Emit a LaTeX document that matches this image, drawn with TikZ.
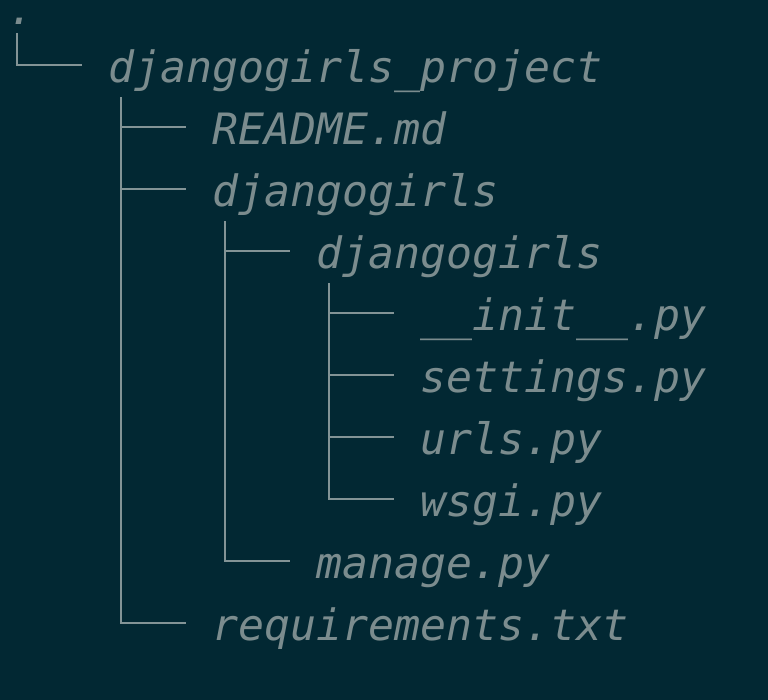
\documentclass[tikz,border=0pt]{standalone}
\usepackage{fontspec}
\newfontfamily\treefont{DejaVu Sans Mono Oblique}
\usepackage{tikz}
\usetikzlibrary{calc}
\definecolor{bgteal}{HTML}{022833}
\definecolor{treegray}{HTML}{839496}
\definecolor{textgray}{HTML}{7b8c8e}

\tikzset{
  entry/.style={anchor=base west, inner sep=0pt, text=textgray,
    font=\treefont\fontsize{32.4pt}{36pt}\selectfont},
  branch/.style={draw=treegray, line width=1.5pt}
}

\begin{document}
\begin{tikzpicture}[x=0.75pt,y=-0.75pt]
         \fill[bgteal] (0,0) rectangle (768,700);
         \useasboundingbox (0,0) rectangle (768,700);

         % Define nodes
         \node[entry] (root) at (8,24) {.};
         \node[entry] (proj) at (108,82) {djangogirls\_project};
         \node[entry] (readme) at (212,144) {README.md};
         \node[entry] (outer) at (212,206) {djangogirls};
         \node[entry] (inner) at (316,268) {djangogirls};
         \node[entry] (init) at (420,330) {\_\_init\_\_.py};
         \node[entry] (settings) at (420,392) {settings.py};
         \node[entry] (urls) at (420,454) {urls.py};
         \node[entry] (wsgi) at (420,516) {wsgi.py};
         \node[entry] (manage) at (316,578) {manage.py};
         \node[entry] (req) at (212,640) {requirements.txt};

         % Draw edges
         \draw[branch] ($(root.base west)+(9,9)$) |- ($(proj.base west)+(-26,-17)$);
         \draw[branch] ($(proj.base west)+(13,15)$) |- ($(readme.base west)+(-26,-17)$);
         \draw[branch] ($(proj.base west)+(13,15)$) |- ($(outer.base west)+(-26,-17)$);
         \draw[branch] ($(proj.base west)+(13,15)$) |- ($(req.base west)+(-26,-17)$);
         \draw[branch] ($(outer.base west)+(13,15)$) |- ($(inner.base west)+(-26,-17)$);
         \draw[branch] ($(outer.base west)+(13,15)$) |- ($(manage.base west)+(-26,-17)$);
         \draw[branch] ($(inner.base west)+(13,15)$) |- ($(init.base west)+(-26,-17)$);
         \draw[branch] ($(inner.base west)+(13,15)$) |- ($(settings.base west)+(-26,-17)$);
         \draw[branch] ($(inner.base west)+(13,15)$) |- ($(urls.base west)+(-26,-17)$);
         \draw[branch] ($(inner.base west)+(13,15)$) |- ($(wsgi.base west)+(-26,-17)$);
\end{tikzpicture}
\end{document}
